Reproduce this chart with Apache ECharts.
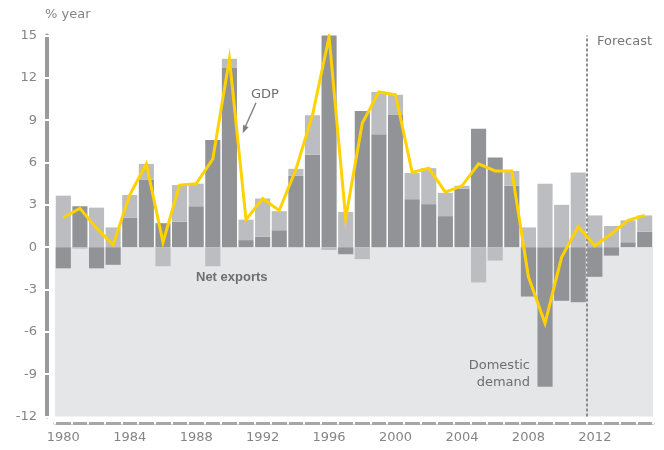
<!DOCTYPE html>
<html>
<head>
<meta charset="utf-8">
<script src="https://cdn.jsdelivr.net/npm/echarts@6/dist/echarts.min.js"></script>
<style>
  html, body { margin: 0; padding: 0; background: #fff; }
  #main { width: 664px; height: 450px; }
</style>
</head>
<body>
<div id="main"></div>
<script>
// years shown on the category axis
var years = [];
for (var y = 1980; y <= 2015; y++) years.push(String(y));

// contributions to growth, % year
var domesticDemand = [-1.5, 2.9, -1.5, -1.25, 2.1, 4.8, 1.7, 1.8, 2.9, 7.6, 12.7, 0.5, 0.75, 1.2, 5.05, 6.55, 15.0, -0.5,
  9.65, 8.0, 9.4, 3.4, 3.05, 2.2, 4.15, 8.4, 6.35, 4.35, -3.5, -9.9, -3.8, -3.9, -2.1, -0.6, 0.35, 1.1];
var netExports = [3.65, -0.1, 2.8, 1.4, 1.6, 1.1, -1.35, 2.6, 1.6, -1.35, 0.65, 1.45, 2.7, 1.35, 0.5, 2.8, -0.2, 2.5,
  -0.85, 3.0, 1.4, 1.85, 2.55, 1.65, 0.2, -2.5, -0.95, 1.05, 1.4, 4.5, 3.0, 5.3, 2.25, 1.5, 1.55, 1.15];
var gdp = [2.1, 2.75, 1.35, 0.15, 3.7, 5.9, 0.35, 4.4, 4.5, 6.25, 13.35, 1.95, 3.45, 2.6, 5.5, 9.35, 14.9, 2.05,
  8.8, 11.0, 10.8, 5.3, 5.6, 3.9, 4.35, 5.9, 5.4, 5.4, -2.1, -5.4, -0.7, 1.45, 0.1, 0.95, 1.9, 2.25];

var forecastFrom = 2011.5;   // boundary between actual and forecast years
var yMin = -12, yMax = 15, yStep = 3;

var labelColor = '#858585';
var font = 'DejaVu Sans';

var myChart = echarts.init(document.getElementById('main'));

var option = {
  animation: false,
  grid: { left: 55, right: 11, top: 35.5, bottom: 33.5, containLabel: false },
  xAxis: [
    {
      // visible axis: labels + grey rule
      type: 'category',
      data: years,
      position: 'bottom',
      offset: 6.5,
      axisLine: { show: true, onZero: false, lineStyle: { color: '#a6a6a8', width: 3 } },
      axisTick: { show: false },
      axisLabel: { interval: 3, margin: 8, color: labelColor, fontSize: 13, fontFamily: font }
    },
    {
      // white ticks only, cut the rule into dashes
      type: 'category',
      data: years,
      position: 'bottom',
      offset: 8,
      axisLine: { show: false, onZero: false },
      axisLabel: { show: false },
      axisTick: { show: true, interval: 0, inside: true, length: 6, lineStyle: { color: '#ffffff', width: 2 } }
    },
    {
      // hidden value axis for the forecast marker
      type: 'value',
      position: 'top',
      show: false,
      min: 1979.5,
      max: 2015.5,
      axisLine: { onZero: false }
    }
  ],
  yAxis: [
    {
      type: 'value',
      min: yMin, max: yMax, interval: yStep,
      position: 'left',
      offset: 8,
      axisLine: { show: true, onZero: false, lineStyle: { color: '#9b9b9e', width: 4 } },
      axisTick: { show: false },
      splitLine: { show: false },
      axisLabel: { margin: 10, color: labelColor, fontSize: 13, fontFamily: font }
    },
    {
      // white gaps on the y rule at each tick
      type: 'value',
      min: yMin, max: yMax, interval: yStep,
      position: 'left',
      offset: 10,
      axisLine: { show: false, onZero: false },
      axisLabel: { show: false },
      splitLine: { show: false },
      axisTick: { show: true, inside: true, length: 8, lineStyle: { color: '#ffffff', width: 2 } }
    }
  ],
  series: [
    {
      name: 'Domestic demand',
      type: 'bar',
      stack: 'gdp',
      xAxisIndex: 0, yAxisIndex: 0,
      data: domesticDemand,
      barCategoryGap: '9%',
      itemStyle: { color: '#929396' },
      markArea: {
        silent: true,
        itemStyle: { color: '#e5e6e8' },
        data: [[{ yAxis: 0 }, { yAxis: yMin }]]
      }
    },
    {
      name: 'Net exports',
      type: 'bar',
      stack: 'gdp',
      xAxisIndex: 0, yAxisIndex: 0,
      data: netExports,
      itemStyle: { color: '#bcbdc0' }
    },
    {
      name: 'GDP',
      type: 'line',
      xAxisIndex: 0, yAxisIndex: 0,
      data: gdp,
      symbol: 'none',
      z: 5,
      lineStyle: { color: '#ffd200', width: 3, join: 'miter' }
    },
    {
      // forecast divider
      type: 'line',
      xAxisIndex: 2, yAxisIndex: 0,
      data: [],
      markLine: {
        silent: true,
        symbol: ['none', 'none'],
        label: { show: false },
        lineStyle: { color: '#8e8e90', type: [3, 2], width: 2 },
        data: [{ xAxis: forecastFrom }]
      }
    }
  ],
  graphic: [
    { type: 'text', z: 20, x: 45, y: 8, style: { text: '% year', fill: labelColor, fontSize: 13, fontFamily: font } },
    { type: 'text', z: 20, x: 597, y: 35, style: { text: 'Forecast', fill: '#777', fontSize: 13, fontFamily: font } },
    { type: 'text', z: 20, x: 251, y: 88, style: { text: 'GDP', fill: '#707070', fontSize: 13, fontFamily: font } },
    // pointer from the GDP label to the line: group placed at the arrow tip
    {
      type: 'group',
      x: 242.7, y: 133.3,
      z: 30,
      children: [
        { type: 'line', z: 30, shape: { x1: 13.3, y1: -30.6, x2: 2.6, y2: -6.5 }, style: { stroke: '#808080', lineWidth: 1.4 } },
        { type: 'polygon', z: 30, shape: { points: [[0, 0], [5.9, -6.1], [0.4, -8.5]] }, style: { fill: '#808080' } }
      ]
    },
    { type: 'text', z: 20, x: 196, y: 271, style: { text: 'Net exports', fill: '#6e6e6e', fontSize: 13, fontWeight: 'bold', fontFamily: 'Liberation Sans' } },
    { type: 'text', z: 20, x: 530, y: 357, style: { text: 'Domestic\ndemand', align: 'right', fill: '#6e6e6e', fontSize: 13, lineHeight: 17, fontFamily: font } }
  ]
};

myChart.setOption(option);
</script>
</body>
</html>
